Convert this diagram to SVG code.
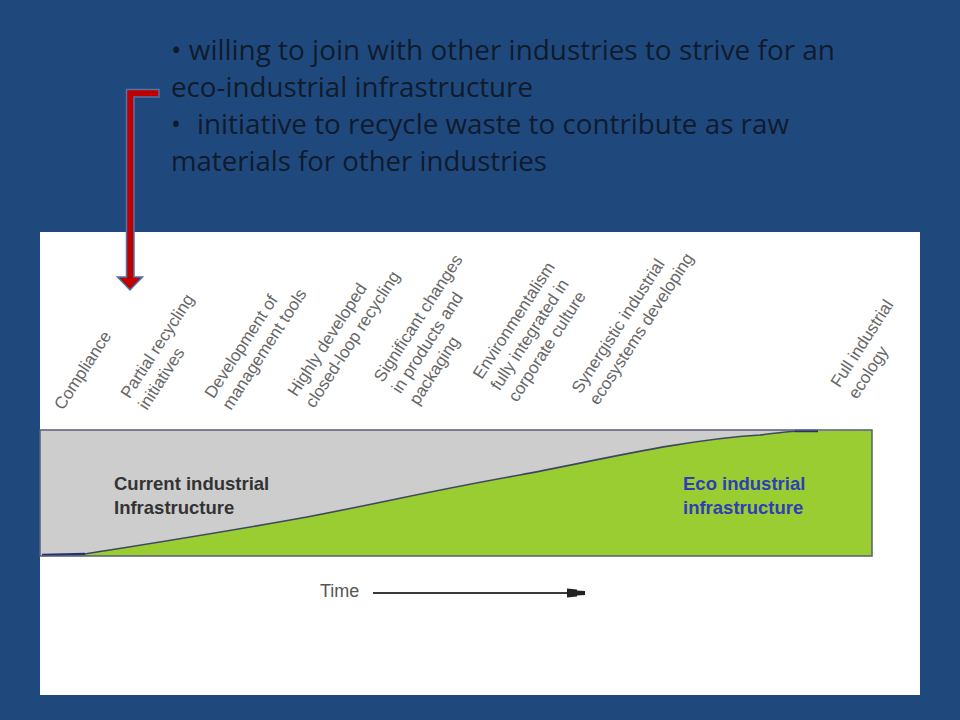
<svg xmlns="http://www.w3.org/2000/svg" width="960" height="720" viewBox="0 0 960 720">
<style>
.head{font-family:"Open Sans","Liberation Sans",sans-serif;font-size:26.5px;fill:#0F1B2D}
.lbl{font-family:"Liberation Sans",Arial,sans-serif;font-size:17px;fill:#666666}
.zone{font-family:"Liberation Sans",Arial,sans-serif;font-size:18.5px;font-weight:bold}
</style>
<rect x="0" y="0" width="960" height="720" fill="#1F497D"/>
<g id="bullets">
<text class="head" x="171" y="60" textLength="664" lengthAdjust="spacingAndGlyphs">• willing to join with other industries to strive for an</text>
<text class="head" x="171" y="97" textLength="362" lengthAdjust="spacingAndGlyphs">eco-industrial infrastructure</text>
<text class="head" x="171" y="134">•</text>
<text class="head" x="197" y="134" textLength="592" lengthAdjust="spacingAndGlyphs">initiative to recycle waste to contribute as raw</text>
<text class="head" x="171" y="171" textLength="376" lengthAdjust="spacingAndGlyphs">materials for other industries</text>
</g>
<rect id="panel" x="40" y="232" width="880" height="463" fill="#FFFFFF"/>
<g id="labels">
<g id="lbl-compliance" transform="translate(63,411) rotate(-57)"><text class="lbl" x="0" y="0">Compliance</text></g>
<g id="lbl-partial" transform="translate(147,411) rotate(-57)"><text class="lbl" x="0" y="-21">Partial recycling</text><text class="lbl" x="0" y="0">initiatives</text></g>
<g id="lbl-development" transform="translate(231,411) rotate(-57)"><text class="lbl" x="0" y="-21">Development of</text><text class="lbl" x="0" y="0">management tools</text></g>
<g id="lbl-highly" transform="translate(314,409) rotate(-57)"><text class="lbl" x="0" y="-21">Highly developed</text><text class="lbl" x="0" y="0">closed-loop recycling</text></g>
<g id="lbl-significant" transform="translate(418,406) rotate(-57)"><text class="lbl" x="0" y="-42">Significant changes</text><text class="lbl" x="0" y="-21">in products and</text><text class="lbl" x="0" y="0">packaging</text></g>
<g id="lbl-environmentalism" transform="translate(517,403) rotate(-57)"><text class="lbl" x="0" y="-42">Environmentalism</text><text class="lbl" x="0" y="-21">fully integrated in</text><text class="lbl" x="0" y="0">corporate culture</text></g>
<g id="lbl-synergistic" transform="translate(598,406) rotate(-57)"><text class="lbl" x="0" y="-21">Synergistic industrial</text><text class="lbl" x="0" y="0">ecosystems developing</text></g>
<g id="lbl-full" transform="translate(857,400) rotate(-57)"><text class="lbl" x="0" y="-21">Full industrial</text><text class="lbl" x="0" y="0">ecology</text></g>
</g>
<g id="transition-chart">
<rect x="40" y="430" width="832" height="126" fill="#CDCDCD"/>
<path d="M40,556 L40,555 L85,554 C160,542 230,531 307,517 C380,503 440,489 520,475 C600,460 680,440 760,435 C780,433 790,431 818,431 L872,430 L872,556 Z" fill="#9ACD32"/>
<path d="M85,554 C160,542 230,531 307,517 C380,503 440,489 520,475 C600,460 680,440 760,435 C780,433 790,431 800,431" fill="none" stroke="#3f4660" stroke-width="1.6"/>
<line x1="42" y1="555" x2="85" y2="554" stroke="#2a3170" stroke-width="2.5"/>
<line x1="795" y1="431" x2="818" y2="431" stroke="#2a3170" stroke-width="2.5"/>
<rect x="40" y="430" width="832" height="126" fill="none" stroke="#5a5e78" stroke-width="1.5"/>
<text class="zone" x="114" y="490" fill="#333333">Current industrial</text>
<text class="zone" x="114" y="514" fill="#333333">Infrastructure</text>
<text class="zone" x="683" y="490" fill="#2E3DB8">Eco industrial</text>
<text class="zone" x="683" y="514" fill="#2E3DB8">infrastructure</text>
</g>
<g id="connectors">
<path id="bent-arrow" d="M159,89.5 H126.5 V277 H117.5 L130,290 L142.5,277 H134 V97 H159 Z" fill="#C00000" stroke="#4A76A8" stroke-width="1.5" stroke-linejoin="miter"/>
<line id="time-arrow" x1="373" y1="593" x2="568" y2="593" stroke="#3a3a3a" stroke-width="2"/>
<polygon points="567,588.5 577,589.5 577,590.5 585,591 585,595 577,595.5 577,596.5 567,597.5" fill="#222222"/>
</g>
<text x="320" y="597" font-family="Liberation Sans, Arial, sans-serif" font-size="18" fill="#555555">Time</text>
</svg>
